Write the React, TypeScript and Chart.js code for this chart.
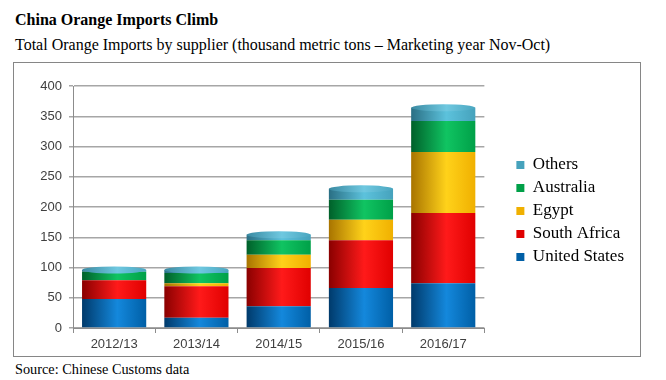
import React, { useEffect, useRef } from "react";
import { Chart, registerables } from "chart.js";

Chart.register(...registerables);

const categories = ["2012/13", "2013/14", "2014/15", "2015/16", "2016/17"];
const unitedStates = [48, 17, 36, 66, 74];
const southAfrica = [31, 52, 63, 79, 116];
const egypt = [0, 5, 22, 34, 101];
const australia = [14, 17, 24, 33, 51];
const others = [3, 5, 9, 18, 22];
const yTicks = [0, 50, 100, 150, 200, 250, 300, 350, 400];

const seriesNames = ["United States", "South Africa", "Egypt", "Australia", "Others"];
const seriesData = [unitedStates, southAfrica, egypt, australia, others];
const seriesColors = [
  { solid: "#0070c0", dark: "#003a6b", light: "#1488dc", end: "#005fa6" },
  { solid: "#ff0000", dark: "#8a0000", light: "#ff1a1a", end: "#e00000" },
  { solid: "#ffc000", dark: "#a87400", light: "#ffd21a", end: "#f0b000" },
  { solid: "#00b050", dark: "#00602a", light: "#10c462", end: "#00a048" },
  { solid: "#4bacc6", dark: "#2a6f84", light: "#5cc2dc", end: "#46a2bc" },
];

const BAR_PCT = 0.78;

function cylinderFill(c: any, col: any) {
  if (c.type !== "data") return col.solid;
  const chart = c.chart;
  const xs = chart.scales && chart.scales.x;
  if (!xs) return col.solid;
  const center = xs.getPixelForValue(c.dataIndex);
  const w = (xs.width / categories.length) * BAR_PCT;
  if (!Number.isFinite(center) || !Number.isFinite(w) || w <= 0) return col.solid;
  const g = chart.ctx.createLinearGradient(center - w / 2, 0, center + w / 2, 0);
  g.addColorStop(0, col.dark);
  g.addColorStop(0.55, col.light);
  g.addColorStop(1, col.end);
  return g;
}

const cylinderTop = {
  id: "cylinderTop",
  afterDatasetsDraw(chart: any) {
    const ctx = chart.ctx;
    const n = chart.data.labels.length;
    for (let i = 0; i < n; i++) {
      let el: any = null;
      for (let d = chart.data.datasets.length - 1; d >= 0; d--) {
        const v = chart.data.datasets[d].data[i];
        if (v > 0) {
          el = chart.getDatasetMeta(d).data[i];
          break;
        }
      }
      if (!el) continue;
      const { x, y, width } = el.getProps(["x", "y", "width"], true);
      ctx.save();
      const g = ctx.createLinearGradient(x - width / 2, 0, x + width / 2, 0);
      g.addColorStop(0, "#3a8aa2");
      g.addColorStop(0.55, "#6fc8e0");
      g.addColorStop(1, "#4aa6c0");
      ctx.beginPath();
      ctx.ellipse(x, y, width / 2, 3.5, 0, 0, Math.PI * 2);
      ctx.fillStyle = g;
      ctx.fill();
      ctx.restore();
    }
  },
};

export default function App() {
  const ref = useRef<HTMLCanvasElement | null>(null);

  useEffect(() => {
    if (!ref.current) return;
    const chart = new Chart(ref.current, {
      type: "bar",
      data: {
        labels: categories,
        datasets: seriesNames.map((name, k) => ({
          label: name,
          data: seriesData[k],
          backgroundColor: (c: any) => cylinderFill(c, seriesColors[k]),
          borderWidth: 0,
          barPercentage: BAR_PCT,
          categoryPercentage: 1,
        })),
      },
      options: {
        animation: false,
        responsive: false,
        maintainAspectRatio: false,
        events: [],
        layout: { padding: { left: 0, right: 5, top: 23, bottom: 0 } },
        scales: {
          x: {
            stacked: true,
            afterFit: (s: any) => {
              s.height = 27;
            },
            grid: {
              display: true,
              drawOnChartArea: false,
              drawTicks: true,
              tickLength: 5,
              color: "#8c8c8c",
              offset: true,
            },
            border: { display: true, color: "#8c8c8c", width: 1 },
            ticks: {
              color: "#404040",
              font: { family: "Liberation Sans", size: 13 },
              padding: 4,
              maxRotation: 0,
            },
          },
          y: {
            stacked: true,
            min: 0,
            max: 400,
            afterBuildTicks: (s: any) => {
              s.ticks = yTicks.map((v) => ({ value: v }));
            },
            afterFit: (s: any) => {
              s.width = 59;
            },
            grid: { color: "#a6a6a6", lineWidth: 1.5, tickLength: 4 },
            border: { display: true, color: "#8c8c8c", width: 1 },
            ticks: {
              color: "#404040",
              font: { family: "Liberation Sans", size: 13 },
              padding: 7,
            },
          },
          y2: {
            type: "linear",
            position: "right",
            display: true,
            grid: { display: false, drawTicks: false },
            border: { display: false },
            ticks: { display: false },
            afterFit: (s: any) => {
              s.width = 26;
            },
          },
        },
        plugins: {
          legend: {
            position: "right",
            fullSize: false,
            reverse: true,
            maxWidth: 130,
            title: {
              display: true,
              text: " ",
              color: "rgba(255,255,255,0)",
              font: { size: 5, lineHeight: 1 },
              padding: { top: 1.5, bottom: 1.5 },
            },
            labels: {
              boxWidth: 8,
              boxHeight: 8,
              padding: 6,
              color: "#000000",
              font: { family: "Liberation Serif", size: 17 },
            },
          },
          tooltip: { enabled: false },
          title: { display: false },
        },
      },
      plugins: [cylinderTop],
    } as any);
    return () => chart.destroy();
  }, []);

  const serif = "'Liberation Serif', 'Times New Roman', serif";
  return (
    <div style={{ position: "absolute", left: 0, top: 0, width: 666, height: 380, background: "#fff", fontFamily: serif, color: "#000" }}>
      <div style={{ position: "absolute", left: 15, top: 12, fontSize: 16, lineHeight: "16px", fontWeight: "bold", whiteSpace: "nowrap" }}>
        China Orange Imports Climb
      </div>
      <div style={{ position: "absolute", left: 15, top: 37, fontSize: 16, lineHeight: "16px", whiteSpace: "nowrap" }}>
        Total Orange Imports by supplier (thousand metric tons – Marketing year Nov-Oct)
      </div>
      <div style={{ position: "absolute", left: 13, top: 62, width: 628, height: 295, boxSizing: "border-box", border: "1px solid #868686" }} />
      <canvas ref={ref} width={625} height={292} style={{ position: "absolute", left: 14, top: 63, width: 625, height: 292 }} />
      <div style={{ position: "absolute", left: 15, top: 362, fontSize: 14.3, lineHeight: "14px", whiteSpace: "nowrap" }}>
        Source: Chinese Customs data
      </div>
    </div>
  );
}
